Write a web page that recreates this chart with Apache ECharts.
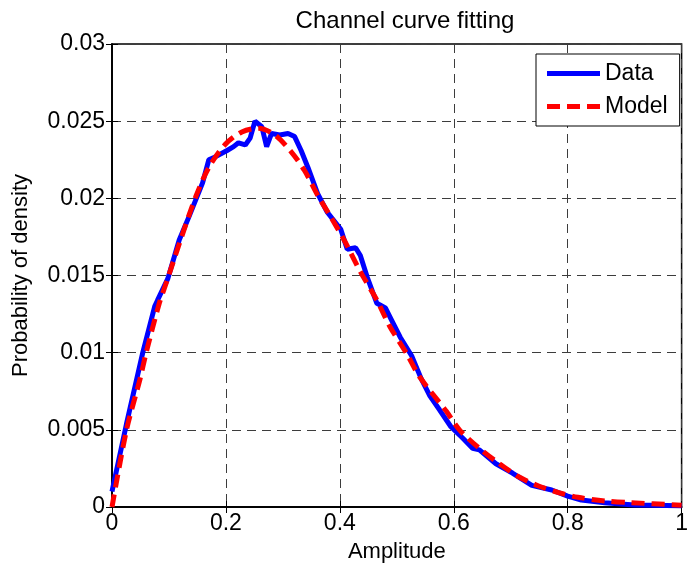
<!DOCTYPE html>
<html>
<head>
<meta charset="utf-8">
<script src="https://cdn.jsdelivr.net/npm/echarts@6/dist/echarts.min.js"></script>
<style>
html,body{margin:0;padding:0;background:#fff;}
#chart{width:691px;height:568px;}
</style>
</head>
<body>
<div id="chart"></div>
<script>
// Measured data (Data series)
const dataX = [0, 0.0255, 0.054, 0.075, 0.080, 0.098, 0.118, 0.135, 0.159, 0.170, 0.182, 0.202, 0.2135, 0.222, 0.234, 0.2425, 0.251, 0.263, 0.2715, 0.280, 0.2945, 0.309, 0.3206, 0.332, 0.344, 0.361, 0.378, 0.4016, 0.413, 0.4277, 0.436, 0.448, 0.465, 0.480, 0.491, 0.506, 0.526, 0.543, 0.558, 0.575, 0.595, 0.616, 0.633, 0.645, 0.674, 0.703, 0.737, 0.772, 0.800, 0.824, 0.865, 0.917, 1.0];
const dataY = [0.0010, 0.0054, 0.0100, 0.0130, 0.0134, 0.0148, 0.0173, 0.0188, 0.0210, 0.0225, 0.0227, 0.0231, 0.02335, 0.0236, 0.02346, 0.0239, 0.0250, 0.02464, 0.02335, 0.0242, 0.0241, 0.0242, 0.0240, 0.0231, 0.0220, 0.0203, 0.0191, 0.0180, 0.0167, 0.0168, 0.0163, 0.0149, 0.0132, 0.0129, 0.0121, 0.0110, 0.0098, 0.0083, 0.0072, 0.0063, 0.0052, 0.00445, 0.0038, 0.0037, 0.0028, 0.0022, 0.0014, 0.0011, 0.0007, 0.00045, 0.00028, 0.00013, 0.00008];

// Model series
const modelX = [0, 0.0255, 0.0486, 0.060, 0.083, 0.095, 0.124, 0.147, 0.170, 0.199, 0.228, 0.257, 0.286, 0.315, 0.338, 0.361, 0.384, 0.4075, 0.436, 0.465, 0.488, 0.517, 0.540, 0.587, 0.610, 0.645, 0.679, 0.714, 0.749, 0.784, 0.818, 0.865, 0.911, 1.0];
const modelY = [0, 0.0050, 0.0082, 0.0100, 0.0132, 0.0145, 0.0177, 0.0201, 0.0220, 0.0235, 0.0243, 0.02454, 0.0241, 0.0230, 0.0218, 0.0202, 0.0188, 0.0173, 0.01525, 0.0134, 0.01168, 0.00996, 0.00844, 0.0062, 0.0050, 0.0038, 0.00283, 0.00196, 0.00136, 0.00093, 0.00063, 0.00039, 0.00028, 0.00012];

const xTickLabels = ['0', '0.2', '0.4', '0.6', '0.8', '1'];
const yTickLabels = ['0', '0.005', '0.01', '0.015', '0.02', '0.025', '0.03'];
const seriesNames = ['Data', 'Model'];
const titleText = 'Channel curve fitting';
const xName = 'Amplitude';
const yName = 'Probability of density';

const FONT = 'Liberation Sans, Arial, sans-serif';
const chart = echarts.init(document.getElementById('chart'), null, {renderer: 'canvas'});

const pairs = (xs, ys) => xs.map((x, i) => [x, ys[i]]);
const gridLine = {show: true, lineStyle: {color: '#3c3c3c', width: 1, type: [9, 6]}};

const option = {
  backgroundColor: '#fff',
  animation: false,
  title: {
    text: titleText, left: 400, top: 4, textAlign: 'center',
    textStyle: {fontFamily: FONT, fontSize: 24, fontWeight: 'normal', color: '#000'}
  },
  grid: {left: 112, top: 44, right: 3, bottom: 61, show: true, borderColor: '#000', borderWidth: 1.5, backgroundColor: '#fff'},
  legend: {
    data: [
      {name: seriesNames[0], icon: 'rect'},
      {name: seriesNames[1], icon: 'path://M0,0h13v5h-13z M20,0h13v5h-13z M40,0h13v5h-13z'}
    ],
    orient: 'vertical', left: 536, top: 54,
    backgroundColor: '#fff', borderColor: '#000', borderWidth: 1,
    padding: [8, 12, 8, 11], itemWidth: 53, itemHeight: 5, itemGap: 10,
    textStyle: {fontFamily: FONT, fontSize: 23, color: '#000'}
  },
  xAxis: [{
    type: 'value', min: 0, max: 1, interval: 0.2,
    name: xName, nameLocation: 'middle', nameGap: 34,
    nameTextStyle: {fontFamily: FONT, fontSize: 22, color: '#000'},
    axisLine: {show: true, onZero: false, lineStyle: {color: '#000', width: 1.5}},
    axisTick: {show: true, inside: true, length: 6, lineStyle: {color: '#000'}},
    axisLabel: {fontFamily: FONT, fontSize: 23, color: '#000', margin: 5,
      formatter: (v) => xTickLabels[Math.round(v / 0.2)]},
    splitLine: gridLine
  }, {
    type: 'value', min: 0, max: 1, interval: 0.2, position: 'top',
    axisLine: {show: true, lineStyle: {color: '#000', width: 1.5}},
    axisTick: {show: true, inside: true, length: 6, lineStyle: {color: '#000'}},
    axisLabel: {show: false}, splitLine: {show: false}
  }],
  yAxis: [{
    type: 'value', min: 0, max: 0.03, interval: 0.005,
    name: yName, nameLocation: 'middle', nameGap: 80, nameRotate: 90,
    nameTextStyle: {fontFamily: FONT, fontSize: 22, color: '#000'},
    axisLine: {show: true, onZero: false, lineStyle: {color: '#000', width: 1.5}},
    axisTick: {show: true, inside: true, length: 6, lineStyle: {color: '#000'}},
    axisLabel: {fontFamily: FONT, fontSize: 23, color: '#000', margin: 7,
      formatter: (v) => yTickLabels[Math.round(v / 0.005)]},
    splitLine: gridLine
  }, {
    type: 'value', min: 0, max: 0.03, interval: 0.005, position: 'right',
    axisLine: {show: true, lineStyle: {color: '#000', width: 1.5}},
    axisTick: {show: true, inside: true, length: 6, lineStyle: {color: '#000'}},
    axisLabel: {show: false}, splitLine: {show: false}
  }],
  series: [{
    name: seriesNames[0], type: 'line', data: pairs(dataX, dataY),
    symbol: 'none', lineStyle: {color: '#0000ff', width: 5}, itemStyle: {color: '#0000ff'}, z: 3
  }, {
    name: seriesNames[1], type: 'line', data: pairs(modelX, modelY), smooth: 0.3,
    symbol: 'none', lineStyle: {color: '#ff0000', width: 5, type: [13, 7]}, itemStyle: {color: '#ff0000'}, z: 4
  }]
};
chart.setOption(option);
</script>
</body>
</html>
